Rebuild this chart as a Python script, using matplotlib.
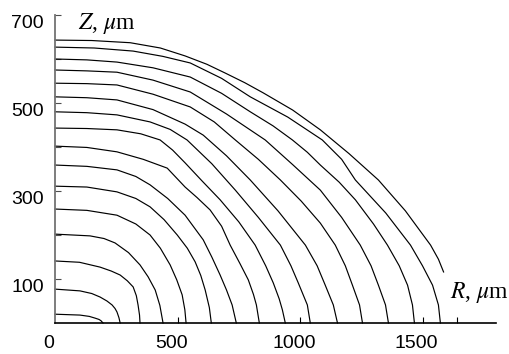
import matplotlib
matplotlib.use("Agg")
import matplotlib.pyplot as plt
from matplotlib.transforms import ScaledTranslation

# contour points (R, Z in um), innermost first
r01 = [0, 102, 140, 164, 180, 188, 196]
z01 = [20, 18, 15, 11, 8, 5, 0]
r02 = [0, 102, 150, 184, 212, 233, 245, 253, 261, 266]
z02 = [77, 73, 67, 59, 50, 41, 33, 25, 12, 0]
r03 = [0, 100, 184, 230, 266, 295, 319, 332, 339, 345, 347]
z03 = [141, 138, 127, 118, 109, 96, 82, 62, 41, 18, 0]
r04 = [0, 143, 200, 245, 300, 347, 380, 409, 428, 441]
z04 = [202, 198, 192, 182, 160, 132, 105, 75, 40, 0]
r05 = [0, 130, 253, 330, 388, 430, 470, 497, 519, 530, 535]
z05 = [259, 256, 245, 225, 200, 170, 132, 98, 64, 30, 0]
r06 = [0, 130, 253, 330, 388, 445, 499, 540, 572, 595, 613, 630, 638]
z06 = [311, 309, 298, 283, 264, 235, 200, 170, 139, 108, 75, 35, 0]
r07 = [0, 130, 253, 330, 388, 460, 531, 605, 640, 674, 700, 723, 740]
z07 = [359, 356, 348, 333, 314, 283, 245, 189, 150, 109, 75, 41, 0]
r08 = [0, 130, 253, 360, 458, 531, 580, 633, 680, 715, 755, 789, 810, 822, 834]
z08 = [402, 399, 389, 372, 352, 309, 285, 257, 220, 177, 135, 98, 65, 41, 0]
r09 = [0, 130, 253, 350, 429, 480, 531, 600, 674, 750, 817, 860, 891, 915, 928, 940]
z09 = [443, 442, 439, 430, 416, 393, 364, 323, 280, 230, 177, 130, 91, 55, 30, 0]
r10 = [0, 130, 253, 388, 470, 539, 640, 736, 830, 920, 963, 993, 1030, 1042]
z10 = [480, 478, 473, 457, 440, 416, 362, 302, 240, 177, 130, 91, 41, 0]
r11 = [0, 130, 253, 400, 531, 605, 700, 797, 910, 1022, 1070, 1103, 1136, 1153]
z11 = [514, 512, 507, 485, 452, 427, 380, 325, 255, 177, 130, 86, 41, 0]
r12 = [0, 130, 253, 400, 552, 650, 736, 830, 920, 1005, 1083, 1144, 1185, 1214, 1243, 1255]
z12 = [545, 544, 541, 520, 491, 457, 416, 372, 325, 277, 227, 177, 130, 86, 41, 0]
r13 = [0, 130, 253, 400, 552, 700, 858, 970, 1083, 1170, 1246, 1290, 1320, 1349, 1361]
z13 = [575, 573, 570, 552, 525, 475, 416, 360, 302, 240, 177, 130, 86, 41, 0]
r14 = [0, 130, 253, 400, 552, 680, 797, 890, 969, 1030, 1083, 1160, 1226, 1300, 1357, 1405, 1439, 1459, 1467]
z14 = [600, 598, 593, 580, 559, 522, 480, 448, 416, 388, 359, 320, 280, 225, 177, 130, 86, 41, 0]
r15 = [0, 160, 319, 440, 552, 680, 797, 950, 1091, 1170, 1226, 1350, 1451, 1500, 1541, 1565, 1573]
z15 = [627, 625, 618, 606, 591, 556, 514, 468, 416, 372, 325, 250, 177, 130, 86, 41, 0]
r16 = [0, 150, 307, 430, 531, 620, 695, 775, 850, 970, 1083, 1200, 1320, 1430, 1533, 1565, 1586]
z16 = [643, 642, 637, 625, 607, 588, 568, 546, 523, 484, 439, 385, 325, 255, 177, 145, 116]

curves = [(r01, z01), (r02, z02), (r03, z03), (r04, z04), (r05, z05),
          (r06, z06), (r07, z07), (r08, z08), (r09, z09), (r10, z10),
          (r11, z11), (r12, z12), (r13, z13), (r14, z14), (r15, z15),
          (r16, z16)]

x_labels = [0, 500, 1000, 1500]
x_ticks = [500, 1000, 1500, 1640]
y_labels = [100, 300, 500, 700]
y_ticks = [100, 200, 300, 400, 500, 600, 700]

plt.rcParams['mathtext.fontset'] = 'stix'

fig = plt.figure(figsize=(5.1, 3.54), dpi=100)
ax = fig.add_axes([55/510, 31/354, 441/510, 308/354])

for r, z in curves:
    ax.plot(r, z, color='black', lw=0.85, clip_on=False)

ax.set_xlim(0, 1800)
ax.set_ylim(0, 700)
ax.spines['top'].set_visible(False)
ax.spines['right'].set_visible(False)
ax.spines['left'].set_color('0.45')
ax.spines['left'].set_linewidth(1.3)
ax.spines['bottom'].set_linewidth(1.2)

ax.set_xticks(x_ticks)
ax.set_yticks(y_ticks)
ax.set_xticklabels([])
ax.set_yticklabels([])
ax.tick_params(axis='x', direction='in', length=4, width=0.8)
ax.tick_params(axis='y', direction='in', length=4, width=0.8, color='0.3')

# the labels sit a little off their tick marks in the original
ylab_tr = ax.get_yaxis_transform() + ScaledTranslation(-0.11, -0.08, fig.dpi_scale_trans)
for v in y_labels:
    ax.text(0, v, str(v), transform=ylab_tr, ha='right', va='center',
            fontsize=14, family='Liberation Sans')
xlab_tr = ax.get_xaxis_transform() + ScaledTranslation(-0.06, -0.21, fig.dpi_scale_trans)
for v in x_labels:
    ax.text(v, 0, str(v), transform=xlab_tr, ha='center', va='center',
            fontsize=14, family='Liberation Sans')

fig.text(78/510, 1 - 29/354, r'$Z$, $\mu$m', fontsize=17,
         family='Liberation Serif', ha='left', va='baseline')
fig.text(450/510, 1 - 298/354, r'$R$, $\mu$m', fontsize=17,
         family='Liberation Serif', ha='left', va='baseline')

fig.savefig('out.png', dpi=100)
